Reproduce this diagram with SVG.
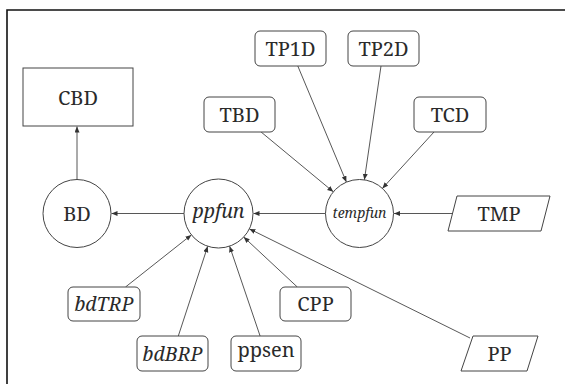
<svg xmlns="http://www.w3.org/2000/svg" width="565" height="384" viewBox="0 0 565 384">
<style>
.n{fill:#fff;stroke:#444;stroke-width:1}
text{font-family:'Noto Serif','DejaVu Serif',serif;font-size:20px;fill:#2a2a2a;text-anchor:middle}
.i{font-style:italic;font-size:19.5px}
.c line{stroke:#444;stroke-width:0.9;marker-end:url(#ah)}
</style>
<defs>
<marker id="ah" markerUnits="userSpaceOnUse" markerWidth="7" markerHeight="6" refX="6" refY="2.5" orient="auto">
<path d="M0,0 L6,2.5 L0,5 Z" fill="#333"/>
</marker>
</defs>
<rect width="565" height="384" fill="#fff"/>
<path d="M7,384 V10 H565" fill="none" stroke="#111" stroke-width="1.6"/>
<g class="c" id="connectors">
<line x1="77" y1="180" x2="77" y2="126.5"/>
<line x1="184" y1="213.5" x2="111.5" y2="213.5"/>
<line x1="325.5" y1="213.5" x2="253.5" y2="213.5"/>
<line x1="452.5" y1="213.5" x2="394" y2="213.5"/>
<line x1="261.1" y1="132" x2="333.3" y2="191.8"/>
<line x1="297.8" y1="66" x2="346.4" y2="182.1"/>
<line x1="381" y1="66" x2="364.4" y2="179.8"/>
<line x1="434" y1="132" x2="382.4" y2="188.4"/>
<line x1="125.5" y1="287" x2="191.4" y2="234.9"/>
<line x1="178.3" y1="336" x2="207.7" y2="246.3"/>
<line x1="260.1" y1="336" x2="229.6" y2="246.2"/>
<line x1="297.3" y1="287" x2="243.7" y2="237"/>
<line x1="470" y1="338" x2="249.4" y2="228.9"/>
</g>
<g id="CBD"><rect class="n" x="23" y="68" width="110" height="58"/><text x="78" y="104.5">CBD</text></g>
<g id="TBD"><rect class="n" x="204" y="97" width="71" height="35" rx="5"/><text x="239.5" y="122">TBD</text></g>
<g id="TP1D"><rect class="n" x="255" y="31" width="71" height="35" rx="5"/><text x="290.5" y="56">TP1D</text></g>
<g id="TP2D"><rect class="n" x="348" y="31" width="71" height="35" rx="5"/><text x="383.5" y="56">TP2D</text></g>
<g id="TCD"><rect class="n" x="414" y="97" width="72" height="35" rx="5"/><text x="450" y="122">TCD</text></g>
<g id="BD"><circle class="n" cx="77" cy="213.5" r="34"/><text x="77" y="221">BD</text></g>
<g id="ppfun"><circle class="n" cx="218.5" cy="213.5" r="34.5"/><text class="i" x="218.5" y="217.5">ppfun</text></g>
<g id="tempfun"><circle class="n" cx="359.5" cy="213.5" r="34"/><text class="i" x="359.5" y="217.5" style="font-size:14px">tempfun</text></g>
<g id="TMP"><polygon class="n" points="457,196 550,196 541,231 448,231"/><text x="499" y="221">TMP</text></g>
<g id="bdTRP"><rect class="n" x="68" y="287" width="72" height="34" rx="5"/><text class="i" x="104" y="310.5">bdTRP</text></g>
<g id="CPP"><rect class="n" x="280" y="287" width="71" height="34" rx="5"/><text x="315.5" y="311">CPP</text></g>
<g id="bdBRP"><rect class="n" x="137" y="336" width="71" height="35" rx="5"/><text class="i" x="172.5" y="360.5">bdBRP</text></g>
<g id="ppsen"><rect class="n" x="231" y="336" width="70" height="35" rx="5"/><text x="266" y="357">ppsen</text></g>
<g id="PP"><polygon class="n" points="473,336 538,336 527,371 461,371"/><text x="499.5" y="360.5">PP</text></g>
</svg>
